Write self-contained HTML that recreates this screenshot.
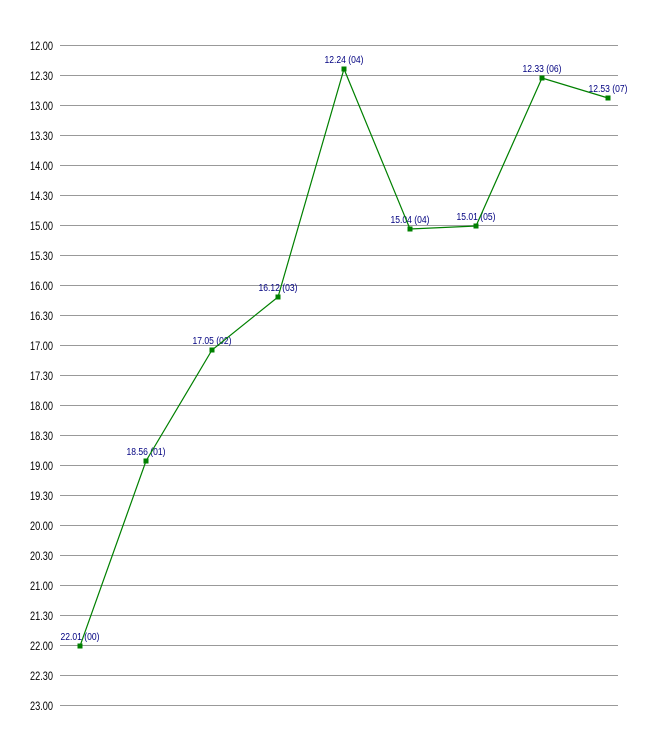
<!DOCTYPE html>
<html><head><meta charset="utf-8"><style>
html,body{margin:0;padding:0;background:#fff;}
svg{display:block;}
.ax{font-family:"Liberation Sans",Arial,sans-serif;font-size:11.5px;fill:#000;}
.lb{font-family:"Liberation Sans",Arial,sans-serif;font-size:10px;fill:#000080;}
</style></head><body>
<svg width="656" height="735" viewBox="0 0 656 735" xmlns="http://www.w3.org/2000/svg">
<g stroke="#999" stroke-width="1" shape-rendering="crispEdges">
<line x1="60" y1="45.5" x2="618" y2="45.5"/>
<line x1="60" y1="75.5" x2="618" y2="75.5"/>
<line x1="60" y1="105.5" x2="618" y2="105.5"/>
<line x1="60" y1="135.5" x2="618" y2="135.5"/>
<line x1="60" y1="165.5" x2="618" y2="165.5"/>
<line x1="60" y1="195.5" x2="618" y2="195.5"/>
<line x1="60" y1="225.5" x2="618" y2="225.5"/>
<line x1="60" y1="255.5" x2="618" y2="255.5"/>
<line x1="60" y1="285.5" x2="618" y2="285.5"/>
<line x1="60" y1="315.5" x2="618" y2="315.5"/>
<line x1="60" y1="345.5" x2="618" y2="345.5"/>
<line x1="60" y1="375.5" x2="618" y2="375.5"/>
<line x1="60" y1="405.5" x2="618" y2="405.5"/>
<line x1="60" y1="435.5" x2="618" y2="435.5"/>
<line x1="60" y1="465.5" x2="618" y2="465.5"/>
<line x1="60" y1="495.5" x2="618" y2="495.5"/>
<line x1="60" y1="525.5" x2="618" y2="525.5"/>
<line x1="60" y1="555.5" x2="618" y2="555.5"/>
<line x1="60" y1="585.5" x2="618" y2="585.5"/>
<line x1="60" y1="615.5" x2="618" y2="615.5"/>
<line x1="60" y1="645.5" x2="618" y2="645.5"/>
<line x1="60" y1="675.5" x2="618" y2="675.5"/>
<line x1="60" y1="705.5" x2="618" y2="705.5"/>
</g>
<g class="ax" text-anchor="end">
<text x="53" y="50" textLength="23" lengthAdjust="spacingAndGlyphs">12.00</text>
<text x="53" y="80" textLength="23" lengthAdjust="spacingAndGlyphs">12.30</text>
<text x="53" y="110" textLength="23" lengthAdjust="spacingAndGlyphs">13.00</text>
<text x="53" y="140" textLength="23" lengthAdjust="spacingAndGlyphs">13.30</text>
<text x="53" y="170" textLength="23" lengthAdjust="spacingAndGlyphs">14.00</text>
<text x="53" y="200" textLength="23" lengthAdjust="spacingAndGlyphs">14.30</text>
<text x="53" y="230" textLength="23" lengthAdjust="spacingAndGlyphs">15.00</text>
<text x="53" y="260" textLength="23" lengthAdjust="spacingAndGlyphs">15.30</text>
<text x="53" y="290" textLength="23" lengthAdjust="spacingAndGlyphs">16.00</text>
<text x="53" y="320" textLength="23" lengthAdjust="spacingAndGlyphs">16.30</text>
<text x="53" y="350" textLength="23" lengthAdjust="spacingAndGlyphs">17.00</text>
<text x="53" y="380" textLength="23" lengthAdjust="spacingAndGlyphs">17.30</text>
<text x="53" y="410" textLength="23" lengthAdjust="spacingAndGlyphs">18.00</text>
<text x="53" y="440" textLength="23" lengthAdjust="spacingAndGlyphs">18.30</text>
<text x="53" y="470" textLength="23" lengthAdjust="spacingAndGlyphs">19.00</text>
<text x="53" y="500" textLength="23" lengthAdjust="spacingAndGlyphs">19.30</text>
<text x="53" y="530" textLength="23" lengthAdjust="spacingAndGlyphs">20.00</text>
<text x="53" y="560" textLength="23" lengthAdjust="spacingAndGlyphs">20.30</text>
<text x="53" y="590" textLength="23" lengthAdjust="spacingAndGlyphs">21.00</text>
<text x="53" y="620" textLength="23" lengthAdjust="spacingAndGlyphs">21.30</text>
<text x="53" y="650" textLength="23" lengthAdjust="spacingAndGlyphs">22.00</text>
<text x="53" y="680" textLength="23" lengthAdjust="spacingAndGlyphs">22.30</text>
<text x="53" y="710" textLength="23" lengthAdjust="spacingAndGlyphs">23.00</text>
</g>
<g class="lb" text-anchor="middle">
<text x="80" y="640" textLength="39" lengthAdjust="spacingAndGlyphs">22.01 (00)</text>
<text x="146" y="455" textLength="39" lengthAdjust="spacingAndGlyphs">18.56 (01)</text>
<text x="212" y="344" textLength="39" lengthAdjust="spacingAndGlyphs">17.05 (02)</text>
<text x="278" y="291" textLength="39" lengthAdjust="spacingAndGlyphs">16.12 (03)</text>
<text x="344" y="63" textLength="39" lengthAdjust="spacingAndGlyphs">12.24 (04)</text>
<text x="410" y="223" textLength="39" lengthAdjust="spacingAndGlyphs">15.04 (04)</text>
<text x="476" y="220" textLength="39" lengthAdjust="spacingAndGlyphs">15.01 (05)</text>
<text x="542" y="72" textLength="39" lengthAdjust="spacingAndGlyphs">12.33 (06)</text>
<text x="608" y="92" textLength="39" lengthAdjust="spacingAndGlyphs">12.53 (07)</text>
</g>
<polyline fill="none" stroke="#008000" stroke-width="1.2" points="80,646 146,461 212,350 278,297 344,69 410,229 476,226 542,78 608,98"/>
<g fill="#008000">
<rect x="77.5" y="643.5" width="5" height="5"/>
<rect x="143.5" y="458.5" width="5" height="5"/>
<rect x="209.5" y="347.5" width="5" height="5"/>
<rect x="275.5" y="294.5" width="5" height="5"/>
<rect x="341.5" y="66.5" width="5" height="5"/>
<rect x="407.5" y="226.5" width="5" height="5"/>
<rect x="473.5" y="223.5" width="5" height="5"/>
<rect x="539.5" y="75.5" width="5" height="5"/>
<rect x="605.5" y="95.5" width="5" height="5"/>
</g>
</svg>
</body></html>
